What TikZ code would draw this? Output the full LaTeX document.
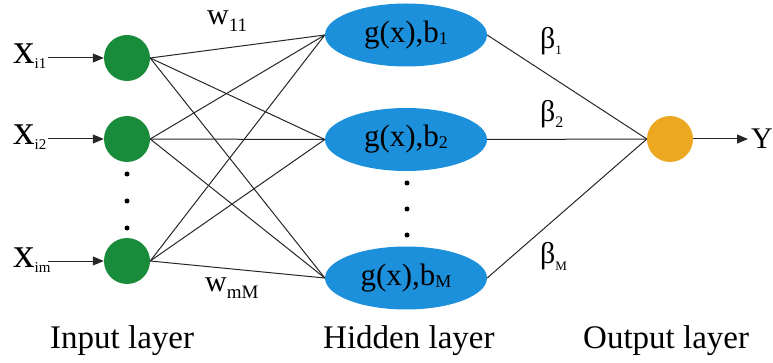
\documentclass[tikz,border=0pt]{standalone}
\usepackage{fontspec}
\setmainfont{Liberation Serif}
\usetikzlibrary{shapes.geometric,arrows.meta}

\definecolor{inputgreen}{RGB}{24,140,58}
\definecolor{hiddenblue}{RGB}{28,144,218}
\definecolor{outorange}{RGB}{236,168,32}

% symbol with a lowered, smaller subscript:
% #1 main size, #2 main text, #3 subscript size, #4 drop (pt), #5 subscript
\newcommand{\symsub}[5]{{\fontsize{#1}{#1}\selectfont #2}\raisebox{-#4pt}{\fontsize{#3}{#3}\selectfont #5}}

\begin{document}
\begin{tikzpicture}[x=1pt,y=-1pt,
  neuronin/.style={circle, fill=inputgreen, minimum size=46pt, inner sep=0pt},
  hiddenunit/.style={ellipse, fill=hiddenblue, minimum width=162pt, minimum height=63pt,
                     inner sep=0pt, font=\fontsize{31}{31}\selectfont},
  outunit/.style={circle, fill=outorange, minimum size=46pt, inner sep=0pt},
  vdot/.style={circle, fill=black, minimum size=5pt, inner sep=0pt},
  link/.style={draw=black!85, line width=1pt},
  feed/.style={link, -{Triangle[length=11pt,width=9pt]}},
  tag/.style={anchor=base west, inner sep=0pt},
  layername/.style={anchor=base west, inner sep=0pt, font=\fontsize{33}{33}\selectfont}]
\useasboundingbox (0,0) rectangle (773,363);

% input layer
\node[neuronin] (in1) at (127,58) {};
\node[neuronin] (in2) at (127,139) {};
\node[neuronin] (in3) at (127,261) {};
\node[vdot] (id1) at (127,174) {};
\node[vdot] (id2) at (127,201) {};
\node[vdot] (id3) at (127,228) {};

% hidden layer
\node[hiddenunit] (h1) at (406,35) {g(x),b\raisebox{-2pt}{\fontsize{18}{18}\selectfont 1}};
\node[hiddenunit] (h2) at (406,139.5) {g(x),b\raisebox{-2pt}{\fontsize{18}{18}\selectfont 2}};
\node[hiddenunit] (h3) at (406,278) {g(x),b\raisebox{-2pt}{\fontsize{18}{18}\selectfont M}};
\node[vdot] (hd1) at (407,183) {};
\node[vdot] (hd2) at (407,209) {};
\node[vdot] (hd3) at (407,235) {};

% output layer
\node[outunit] (out) at (670,139) {};

% input arrows
\coordinate (s1) at (48,58);
\coordinate (s2) at (48,139);
\coordinate (s3) at (48,261);
\draw[feed] (s1) -- (in1);
\draw[feed] (s2) -- (in2);
\draw[feed] (s3) -- (in3);
\node[tag] (x1) at (13,64) {\symsub{43}{x}{15}{5}{i1}};
\node[tag] (x2) at (13,145) {\symsub{43}{x}{15}{5}{i2}};
\node[tag] (x3) at (13,268) {\symsub{43}{x}{15}{5}{im}};

% full connections input -> hidden
\foreach \i in {1,2,3}{
  \foreach \j in {1,2,3}{
    \draw[link] (in\i.east) -- (h\j.west);
  }
}
% hidden -> output
\foreach \j in {1,2,3}{
  \draw[link] (h\j.east) -- (out.west);
}

% output arrow
\coordinate (yend) at (748,139);
\draw[feed] (out) -- (yend);
\node[tag] (ylab) at (751,149) {\fontsize{30}{30}\selectfont Y};

% weights
\node[tag] (w11) at (207,25) {\symsub{30}{w}{19}{7}{11}};
\node[tag] (wmM) at (205,291) {\symsub{30}{w}{19}{7}{mM}};
\node[tag] (b1) at (540,49) {\symsub{30}{β}{13}{6}{1}};
\node[tag] (b2) at (540,122) {\symsub{30}{β}{16}{6}{2}};
\node[tag] (bM) at (540,263) {\symsub{30}{β}{13}{7}{M}};

% layer names
\node[layername] (lin) at (50,348) {Input layer};
\node[layername] (lhid) at (323,348) {Hidden layer};
\node[layername] (lout) at (583,348) {Output layer};
\end{tikzpicture}
\end{document}
